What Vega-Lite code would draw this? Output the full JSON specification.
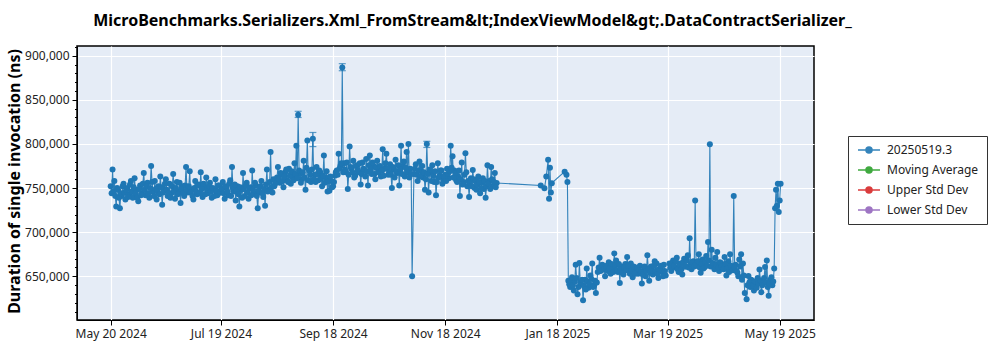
{
  "$schema": "https://vega.github.io/schema/vega-lite/v6.json",
  "width": 737,
  "height": 274,
  "autosize": {"type": "none"},
  "padding": {"left": 77, "top": 46, "right": 186, "bottom": 30},
  "background": "white",
  "title": {
    "text": "MicroBenchmarks.Serializers.Xml_FromStream&lt;IndexViewModel&gt;.DataContractSerializer_",
    "anchor": "middle",
    "frame": "group",
    "dx": 27,
    "offset": 4,
    "baseline": "alphabetic",
    "font": "Noto Sans",
    "fontSize": 16,
    "fontWeight": "bold",
    "color": "black"
  },
  "data": {
    "values": [
      {"d":"2024-05-20","v":752000},{"d":"2024-05-20T12:00:00Z","v":744000},{"d":"2024-05-21","v":771000},{"d":"2024-05-22","v":758000},{"d":"2024-05-23","v":729000},{"d":"2024-05-24","v":748000},{"d":"2024-05-25","v":727000},{"d":"2024-05-26","v":741000},{"d":"2024-05-27","v":755000},{"d":"2024-05-28","v":737000},{"d":"2024-05-29","v":750000},{"d":"2024-05-30","v":743000},{"d":"2024-05-31","v":758000},
      {"d":"2024-06-01","v":739000},{"d":"2024-06-02","v":761000},{"d":"2024-06-03","v":748000},{"d":"2024-06-04","v":735000},{"d":"2024-06-05","v":753000},{"d":"2024-06-06","v":744000},{"d":"2024-06-07","v":767000},{"d":"2024-06-08","v":742000},{"d":"2024-06-09","v":756000},{"d":"2024-06-10","v":739000},{"d":"2024-06-11","v":775000},{"d":"2024-06-12","v":746000},{"d":"2024-06-13","v":758000},{"d":"2024-06-14","v":737000},{"d":"2024-06-15","v":752000},{"d":"2024-06-16","v":763000},{"d":"2024-06-17","v":731000},{"d":"2024-06-18","v":749000},{"d":"2024-06-19","v":760000},{"d":"2024-06-20","v":741000},{"d":"2024-06-21","v":755000},{"d":"2024-06-22","v":744000},{"d":"2024-06-23","v":766000},{"d":"2024-06-24","v":738000},{"d":"2024-06-25","v":757000},{"d":"2024-06-26","v":746000},{"d":"2024-06-27","v":733000},{"d":"2024-06-28","v":752000},{"d":"2024-06-29","v":741000},{"d":"2024-06-30","v":774000},
      {"d":"2024-07-01","v":745000},{"d":"2024-07-02","v":769000},{"d":"2024-07-03","v":748000},{"d":"2024-07-04","v":737000},{"d":"2024-07-05","v":758000},{"d":"2024-07-06","v":743000},{"d":"2024-07-07","v":754000},{"d":"2024-07-08","v":768000},{"d":"2024-07-09","v":740000},{"d":"2024-07-10","v":751000},{"d":"2024-07-11","v":762000},{"d":"2024-07-12","v":744000},{"d":"2024-07-13","v":756000},{"d":"2024-07-14","v":739000},{"d":"2024-07-15","v":748000},{"d":"2024-07-16","v":760000},{"d":"2024-07-17","v":742000},{"d":"2024-07-18","v":753000},
      {"d":"2024-07-19","v":745000},{"d":"2024-07-20","v":757000},{"d":"2024-07-21","v":738000},{"d":"2024-07-22","v":750000},{"d":"2024-07-23","v":742000},{"d":"2024-07-24","v":759000},{"d":"2024-07-25","v":774000},{"d":"2024-07-26","v":746000},{"d":"2024-07-27","v":736000},{"d":"2024-07-28","v":752000},{"d":"2024-07-29","v":729000},{"d":"2024-07-30","v":748000},{"d":"2024-07-31","v":767000},
      {"d":"2024-08-01","v":741000},{"d":"2024-08-02","v":756000},{"d":"2024-08-03","v":738000},{"d":"2024-08-04","v":751000},{"d":"2024-08-05","v":770000},{"d":"2024-08-06","v":744000},{"d":"2024-08-07","v":753000},{"d":"2024-08-08","v":727000},{"d":"2024-08-09","v":745000},{"d":"2024-08-10","v":758000},{"d":"2024-08-11","v":740000},{"d":"2024-08-12","v":730000},{"d":"2024-08-13","v":771000},{"d":"2024-08-14","v":748000},{"d":"2024-08-15","v":791000},{"d":"2024-08-16","v":745000},{"d":"2024-08-17","v":752000},{"d":"2024-08-18","v":758000},
      {"d":"2024-08-19","v":774000},{"d":"2024-08-20","v":756000},{"d":"2024-08-21","v":765000},{"d":"2024-08-22","v":751000},{"d":"2024-08-23","v":768000},{"d":"2024-08-24","v":759000},{"d":"2024-08-25","v":772000},{"d":"2024-08-26","v":755000},{"d":"2024-08-27","v":763000},{"d":"2024-08-28","v":778000},{"d":"2024-08-29","v":798000},{"d":"2024-08-30","v":833000,"lo":830000,"hi":837000},{"d":"2024-08-31","v":766000},
      {"d":"2024-09-01","v":760000},{"d":"2024-09-02","v":781000},{"d":"2024-09-03","v":748000},{"d":"2024-09-04","v":804000},{"d":"2024-09-05","v":770000},{"d":"2024-09-06","v":757000},{"d":"2024-09-07","v":806000,"lo":797000,"hi":813000},{"d":"2024-09-08","v":765000},{"d":"2024-09-09","v":774000},{"d":"2024-09-10","v":759000},{"d":"2024-09-11","v":768000},{"d":"2024-09-12","v":752000},{"d":"2024-09-13","v":787000},{"d":"2024-09-14","v":762000},{"d":"2024-09-15","v":746000},{"d":"2024-09-16","v":747000},{"d":"2024-09-17","v":758000},{"d":"2024-09-18","v":752000},{"d":"2024-09-19","v":764000},
      {"d":"2024-09-20","v":770000},{"d":"2024-09-21","v":789000},{"d":"2024-09-22","v":775000},{"d":"2024-09-23","v":886500,"lo":883000,"hi":891000},{"d":"2024-09-24","v":778000},{"d":"2024-09-25","v":768000},{"d":"2024-09-26","v":749000},{"d":"2024-09-27","v":797000},{"d":"2024-09-28","v":772000},{"d":"2024-09-29","v":781000},{"d":"2024-09-30","v":764000},
      {"d":"2024-10-01","v":776000},{"d":"2024-10-02","v":768000},{"d":"2024-10-03","v":754000},{"d":"2024-10-04","v":779000},{"d":"2024-10-05","v":770000},{"d":"2024-10-06","v":783000},{"d":"2024-10-07","v":753000},{"d":"2024-10-08","v":787000},{"d":"2024-10-09","v":766000},{"d":"2024-10-10","v":775000},{"d":"2024-10-11","v":760000},{"d":"2024-10-12","v":781000},{"d":"2024-10-13","v":769000},{"d":"2024-10-14","v":763000},{"d":"2024-10-15","v":794000},{"d":"2024-10-16","v":772000},{"d":"2024-10-17","v":789000},{"d":"2024-10-18","v":765000},{"d":"2024-10-19","v":777000},{"d":"2024-10-20","v":750000},{"d":"2024-10-21","v":771000},{"d":"2024-10-22","v":782000},{"d":"2024-10-23","v":767000},{"d":"2024-10-24","v":753000},{"d":"2024-10-25","v":798000},{"d":"2024-10-26","v":775000},{"d":"2024-10-27","v":763000},{"d":"2024-10-28","v":791000},{"d":"2024-10-29","v":800000},{"d":"2024-10-30","v":772000},{"d":"2024-10-31","v":650000},
      {"d":"2024-11-01","v":766000},{"d":"2024-11-02","v":777000},{"d":"2024-11-03","v":758000},{"d":"2024-11-04","v":780000},{"d":"2024-11-05","v":769000},{"d":"2024-11-06","v":762000},{"d":"2024-11-07","v":748000},{"d":"2024-11-08","v":800000,"lo":796000,"hi":803000},{"d":"2024-11-09","v":745000},{"d":"2024-11-10","v":768000},{"d":"2024-11-11","v":776000},{"d":"2024-11-12","v":757000},{"d":"2024-11-13","v":742000},{"d":"2024-11-14","v":778000},{"d":"2024-11-15","v":764000},{"d":"2024-11-16","v":770000},{"d":"2024-11-17","v":759000},
      {"d":"2024-11-18","v":765000},{"d":"2024-11-19","v":772000},{"d":"2024-11-20","v":761000},{"d":"2024-11-21","v":798000},{"d":"2024-11-22","v":786000},{"d":"2024-11-23","v":770000},{"d":"2024-11-24","v":759000},{"d":"2024-11-25","v":763000},{"d":"2024-11-26","v":741000},{"d":"2024-11-27","v":779000},{"d":"2024-11-28","v":757000},{"d":"2024-11-29","v":789500},{"d":"2024-11-30","v":752000},
      {"d":"2024-12-01","v":740000},{"d":"2024-12-02","v":761000},{"d":"2024-12-03","v":770500},{"d":"2024-12-04","v":750000},{"d":"2024-12-05","v":748000},{"d":"2024-12-06","v":763000},{"d":"2024-12-07","v":744000},{"d":"2024-12-08","v":756000},{"d":"2024-12-09","v":749000},{"d":"2024-12-10","v":739000},{"d":"2024-12-11","v":776000},{"d":"2024-12-12","v":758000},{"d":"2024-12-13","v":774000},{"d":"2024-12-14","v":752000},{"d":"2024-12-15","v":767000},{"d":"2024-12-16","v":755700},
      {"d":"2025-01-09","v":753000},{"d":"2025-01-11","v":749700},{"d":"2025-01-12","v":763000},{"d":"2025-01-13","v":782000},{"d":"2025-01-13T12:00:00Z","v":738000},{"d":"2025-01-14","v":773000},{"d":"2025-01-14T12:00:00Z","v":745000},{"d":"2025-01-15","v":755600},{"d":"2025-01-22","v":768600},{"d":"2025-01-23","v":765000},{"d":"2025-01-23T12:00:00Z","v":757000},
      {"d":"2025-01-24","v":645000},{"d":"2025-01-25","v":638000},{"d":"2025-01-26","v":649000},{"d":"2025-01-27","v":634000},{"d":"2025-01-28","v":663000},{"d":"2025-01-29","v":629600},{"d":"2025-01-30","v":665000},{"d":"2025-01-31","v":641000},
      {"d":"2025-02-01","v":623000},{"d":"2025-02-02","v":646000},{"d":"2025-02-03","v":659000},{"d":"2025-02-04","v":637000},{"d":"2025-02-05","v":651000},{"d":"2025-02-06","v":664500},{"d":"2025-02-07","v":640000},{"d":"2025-02-08","v":631000},{"d":"2025-02-09","v":655000},{"d":"2025-02-10","v":671000},{"d":"2025-02-11","v":657000},{"d":"2025-02-12","v":660600},{"d":"2025-02-13","v":650000},{"d":"2025-02-14","v":662000},{"d":"2025-02-15","v":666000},{"d":"2025-02-16","v":653000},{"d":"2025-02-17","v":659000},{"d":"2025-02-18","v":676000},{"d":"2025-02-19","v":668000},{"d":"2025-02-20","v":655000},{"d":"2025-02-21","v":642500},{"d":"2025-02-22","v":661000},{"d":"2025-02-23","v":652000},{"d":"2025-02-24","v":664000},{"d":"2025-02-25","v":672000},{"d":"2025-02-26","v":658000},{"d":"2025-02-27","v":664500},{"d":"2025-02-28","v":649000},
      {"d":"2025-03-01","v":660000},{"d":"2025-03-02","v":655000},{"d":"2025-03-03","v":653000},{"d":"2025-03-04","v":662000},{"d":"2025-03-05","v":642000},{"d":"2025-03-06","v":657000},{"d":"2025-03-07","v":650000},{"d":"2025-03-08","v":674000},{"d":"2025-03-09","v":645000},{"d":"2025-03-10","v":661000},{"d":"2025-03-11","v":652000},{"d":"2025-03-12","v":667000},{"d":"2025-03-13","v":664500},{"d":"2025-03-14","v":648000},{"d":"2025-03-15","v":659000},{"d":"2025-03-16","v":655000},{"d":"2025-03-17","v":663000},{"d":"2025-03-18","v":651000},
      {"d":"2025-03-20","v":664500},{"d":"2025-03-21","v":656000},{"d":"2025-03-22","v":668000},{"d":"2025-03-23","v":660000},{"d":"2025-03-24","v":671000},{"d":"2025-03-25","v":655000},{"d":"2025-03-26","v":664600},{"d":"2025-03-27","v":652000},{"d":"2025-03-28","v":670000},{"d":"2025-03-29","v":661000},{"d":"2025-03-30","v":674000},{"d":"2025-03-31","v":693000},
      {"d":"2025-04-01","v":658000},{"d":"2025-04-02","v":667000},{"d":"2025-04-03","v":736000},{"d":"2025-04-04","v":662000},{"d":"2025-04-05","v":675000},{"d":"2025-04-06","v":654000},{"d":"2025-04-07","v":669000},{"d":"2025-04-08","v":660000},{"d":"2025-04-09","v":673000},{"d":"2025-04-10","v":689000},{"d":"2025-04-11","v":799700},{"d":"2025-04-12","v":680000},{"d":"2025-04-13","v":663000},{"d":"2025-04-14","v":671000},{"d":"2025-04-15","v":677600},{"d":"2025-04-16","v":656000},{"d":"2025-04-17","v":665000},{"d":"2025-04-18","v":659000},{"d":"2025-04-19","v":672000},{"d":"2025-04-20","v":651000},{"d":"2025-04-21","v":667000},{"d":"2025-04-22","v":675000},{"d":"2025-04-23","v":658000},{"d":"2025-04-24","v":741000},{"d":"2025-04-25","v":663000},{"d":"2025-04-26","v":654000},{"d":"2025-04-27","v":669000},{"d":"2025-04-28","v":675000},{"d":"2025-04-29","v":664500},{"d":"2025-04-30","v":631000},
      {"d":"2025-05-01","v":624000},{"d":"2025-05-02","v":650400},{"d":"2025-05-03","v":638000},{"d":"2025-05-04","v":645000},{"d":"2025-05-05","v":634000},{"d":"2025-05-06","v":641000},{"d":"2025-05-07","v":648000},{"d":"2025-05-08","v":657700},{"d":"2025-05-09","v":632000},{"d":"2025-05-10","v":644000},{"d":"2025-05-11","v":660600},{"d":"2025-05-12","v":668000},{"d":"2025-05-13","v":628000},{"d":"2025-05-14","v":646000},{"d":"2025-05-15","v":640000},{"d":"2025-05-16","v":659000},{"d":"2025-05-16T12:00:00Z","v":727000},{"d":"2025-05-17","v":748000},{"d":"2025-05-17T12:00:00Z","v":730000},{"d":"2025-05-18","v":755000},{"d":"2025-05-18T12:00:00Z","v":723000},{"d":"2025-05-19","v":736000},{"d":"2025-05-19T12:00:00Z","v":755000},
      {"d":"2024-05-21T12:00:00Z","v":746000},{"d":"2024-05-22T12:00:00Z","v":741000},{"d":"2024-05-23T12:00:00Z","v":750000},{"d":"2024-05-24T12:00:00Z","v":739000},{"d":"2024-05-25T12:00:00Z","v":744000},{"d":"2024-05-26T12:00:00Z","v":752000},{"d":"2024-05-27T12:00:00Z","v":745000},{"d":"2024-05-28T12:00:00Z","v":748000},{"d":"2024-05-29T12:00:00Z","v":740000},{"d":"2024-05-30T12:00:00Z","v":754000},{"d":"2024-05-31T12:00:00Z","v":746000},
      {"d":"2024-06-01T12:00:00Z","v":751000},{"d":"2024-06-02T12:00:00Z","v":744000},{"d":"2024-06-03T12:00:00Z","v":739000},{"d":"2024-06-04T12:00:00Z","v":749000},{"d":"2024-06-05T12:00:00Z","v":742000},{"d":"2024-06-06T12:00:00Z","v":755000},{"d":"2024-06-07T12:00:00Z","v":748000},{"d":"2024-06-08T12:00:00Z","v":752000},{"d":"2024-06-09T12:00:00Z","v":744000},{"d":"2024-06-10T12:00:00Z","v":750000},{"d":"2024-06-11T12:00:00Z","v":757000},{"d":"2024-06-12T12:00:00Z","v":741000},{"d":"2024-06-13T12:00:00Z","v":749000},{"d":"2024-06-14T12:00:00Z","v":746000},{"d":"2024-06-15T12:00:00Z","v":743000},{"d":"2024-06-16T12:00:00Z","v":751000},{"d":"2024-06-17T12:00:00Z","v":745000},{"d":"2024-06-18T12:00:00Z","v":755000},{"d":"2024-06-19T12:00:00Z","v":748000},{"d":"2024-06-20T12:00:00Z","v":744000},{"d":"2024-06-21T12:00:00Z","v":739000},{"d":"2024-06-22T12:00:00Z","v":752000},{"d":"2024-06-23T12:00:00Z","v":747000},{"d":"2024-06-24T12:00:00Z","v":750000},{"d":"2024-06-25T12:00:00Z","v":743000},{"d":"2024-06-26T12:00:00Z","v":756000},{"d":"2024-06-27T12:00:00Z","v":749000},{"d":"2024-06-28T12:00:00Z","v":744000},{"d":"2024-06-29T12:00:00Z","v":753000},{"d":"2024-06-30T12:00:00Z","v":748000},
      {"d":"2024-07-01T12:00:00Z","v":752000},{"d":"2024-07-02T12:00:00Z","v":745000},{"d":"2024-07-03T12:00:00Z","v":741000},{"d":"2024-07-04T12:00:00Z","v":750000},{"d":"2024-07-05T12:00:00Z","v":746000},{"d":"2024-07-06T12:00:00Z","v":753000},{"d":"2024-07-07T12:00:00Z","v":744000},{"d":"2024-07-08T12:00:00Z","v":749000},{"d":"2024-07-09T12:00:00Z","v":755000},{"d":"2024-07-10T12:00:00Z","v":743000},{"d":"2024-07-11T12:00:00Z","v":748000},{"d":"2024-07-12T12:00:00Z","v":752000},{"d":"2024-07-13T12:00:00Z","v":746000},{"d":"2024-07-14T12:00:00Z","v":750000},{"d":"2024-07-15T12:00:00Z","v":741000},{"d":"2024-07-16T12:00:00Z","v":747000},{"d":"2024-07-17T12:00:00Z","v":753000},{"d":"2024-07-18T12:00:00Z","v":745000},
      {"d":"2024-07-19T12:00:00Z","v":749000},{"d":"2024-07-20T12:00:00Z","v":744000},{"d":"2024-07-21T12:00:00Z","v":752000},{"d":"2024-07-22T12:00:00Z","v":746000},{"d":"2024-07-23T12:00:00Z","v":755000},{"d":"2024-07-24T12:00:00Z","v":741000},{"d":"2024-07-25T12:00:00Z","v":750000},{"d":"2024-07-26T12:00:00Z","v":754000},{"d":"2024-07-27T12:00:00Z","v":747000},{"d":"2024-07-28T12:00:00Z","v":743000},{"d":"2024-07-29T12:00:00Z","v":751000},{"d":"2024-07-30T12:00:00Z","v":739000},{"d":"2024-07-31T12:00:00Z","v":749000},
      {"d":"2024-08-01T12:00:00Z","v":753000},{"d":"2024-08-02T12:00:00Z","v":745000},{"d":"2024-08-03T12:00:00Z","v":750000},{"d":"2024-08-04T12:00:00Z","v":742000},{"d":"2024-08-05T12:00:00Z","v":748000},{"d":"2024-08-06T12:00:00Z","v":756000},{"d":"2024-08-07T12:00:00Z","v":741000},{"d":"2024-08-08T12:00:00Z","v":747000},{"d":"2024-08-09T12:00:00Z","v":752000},{"d":"2024-08-10T12:00:00Z","v":744000},{"d":"2024-08-11T12:00:00Z","v":749000},{"d":"2024-08-12T12:00:00Z","v":754000},{"d":"2024-08-13T12:00:00Z","v":746000},{"d":"2024-08-14T12:00:00Z","v":757000},{"d":"2024-08-15T12:00:00Z","v":751000},{"d":"2024-08-16T12:00:00Z","v":760000},{"d":"2024-08-17T12:00:00Z","v":755000},{"d":"2024-08-18T12:00:00Z","v":762000},
      {"d":"2024-08-19T12:00:00Z","v":760000},{"d":"2024-08-20T12:00:00Z","v":767000},{"d":"2024-08-21T12:00:00Z","v":758000},{"d":"2024-08-22T12:00:00Z","v":763000},{"d":"2024-08-23T12:00:00Z","v":771000},{"d":"2024-08-24T12:00:00Z","v":757000},{"d":"2024-08-25T12:00:00Z","v":764000},{"d":"2024-08-26T12:00:00Z","v":769000},{"d":"2024-08-27T12:00:00Z","v":759000},{"d":"2024-08-28T12:00:00Z","v":766000},{"d":"2024-08-29T12:00:00Z","v":761000},{"d":"2024-08-30T12:00:00Z","v":770000},{"d":"2024-08-31T12:00:00Z","v":756000},
      {"d":"2024-09-01T12:00:00Z","v":768000},{"d":"2024-09-02T12:00:00Z","v":762000},{"d":"2024-09-03T12:00:00Z","v":773000},{"d":"2024-09-04T12:00:00Z","v":759000},{"d":"2024-09-05T12:00:00Z","v":765000},{"d":"2024-09-06T12:00:00Z","v":771000},{"d":"2024-09-07T12:00:00Z","v":760000},{"d":"2024-09-08T12:00:00Z","v":757000},{"d":"2024-09-09T12:00:00Z","v":766000},{"d":"2024-09-10T12:00:00Z","v":770000},{"d":"2024-09-11T12:00:00Z","v":761000},{"d":"2024-09-12T12:00:00Z","v":764000},{"d":"2024-09-13T12:00:00Z","v":756000},{"d":"2024-09-14T12:00:00Z","v":769000},{"d":"2024-09-15T12:00:00Z","v":758000},{"d":"2024-09-16T12:00:00Z","v":763000},{"d":"2024-09-17T12:00:00Z","v":751000},{"d":"2024-09-18T12:00:00Z","v":757000},{"d":"2024-09-19T12:00:00Z","v":768000},
      {"d":"2024-09-20T12:00:00Z","v":765000},{"d":"2024-09-21T12:00:00Z","v":772000},{"d":"2024-09-22T12:00:00Z","v":778000},{"d":"2024-09-23T12:00:00Z","v":768000},{"d":"2024-09-24T12:00:00Z","v":771000},{"d":"2024-09-25T12:00:00Z","v":779000},{"d":"2024-09-26T12:00:00Z","v":765000},{"d":"2024-09-27T12:00:00Z","v":774000},{"d":"2024-09-28T12:00:00Z","v":768000},{"d":"2024-09-29T12:00:00Z","v":762000},{"d":"2024-09-30T12:00:00Z","v":775000},
      {"d":"2024-10-01T12:00:00Z","v":770000},{"d":"2024-10-02T12:00:00Z","v":778000},{"d":"2024-10-03T12:00:00Z","v":766000},{"d":"2024-10-04T12:00:00Z","v":772000},{"d":"2024-10-05T12:00:00Z","v":763000},{"d":"2024-10-06T12:00:00Z","v":769000},{"d":"2024-10-07T12:00:00Z","v":776000},{"d":"2024-10-08T12:00:00Z","v":771000},{"d":"2024-10-09T12:00:00Z","v":779000},{"d":"2024-10-10T12:00:00Z","v":766000},{"d":"2024-10-11T12:00:00Z","v":773000},{"d":"2024-10-12T12:00:00Z","v":768000},{"d":"2024-10-13T12:00:00Z","v":775000},{"d":"2024-10-14T12:00:00Z","v":770000},{"d":"2024-10-15T12:00:00Z","v":764000},{"d":"2024-10-16T12:00:00Z","v":778000},{"d":"2024-10-17T12:00:00Z","v":772000},{"d":"2024-10-18T12:00:00Z","v":768000},{"d":"2024-10-19T12:00:00Z","v":765000},{"d":"2024-10-20T12:00:00Z","v":774000},{"d":"2024-10-21T12:00:00Z","v":762000},{"d":"2024-10-22T12:00:00Z","v":769000},{"d":"2024-10-23T12:00:00Z","v":776000},{"d":"2024-10-24T12:00:00Z","v":771000},{"d":"2024-10-25T12:00:00Z","v":766000},{"d":"2024-10-26T12:00:00Z","v":780000},{"d":"2024-10-27T12:00:00Z","v":773000},{"d":"2024-10-28T12:00:00Z","v":768000},{"d":"2024-10-29T12:00:00Z","v":762000},{"d":"2024-10-30T12:00:00Z","v":766000},
      {"d":"2024-11-01T12:00:00Z","v":772000},{"d":"2024-11-02T12:00:00Z","v":765000},{"d":"2024-11-03T12:00:00Z","v":770000},{"d":"2024-11-04T12:00:00Z","v":763000},{"d":"2024-11-05T12:00:00Z","v":775000},{"d":"2024-11-06T12:00:00Z","v":768000},{"d":"2024-11-07T12:00:00Z","v":760000},{"d":"2024-11-08T12:00:00Z","v":766000},{"d":"2024-11-09T12:00:00Z","v":771000},{"d":"2024-11-10T12:00:00Z","v":758000},{"d":"2024-11-11T12:00:00Z","v":764000},{"d":"2024-11-12T12:00:00Z","v":769000},{"d":"2024-11-13T12:00:00Z","v":757000},{"d":"2024-11-14T12:00:00Z","v":762000},{"d":"2024-11-15T12:00:00Z","v":770000},{"d":"2024-11-16T12:00:00Z","v":755000},{"d":"2024-11-17T12:00:00Z","v":763000},
      {"d":"2024-11-18T12:00:00Z","v":758000},{"d":"2024-11-19T12:00:00Z","v":766000},{"d":"2024-11-20T12:00:00Z","v":769000},{"d":"2024-11-21T12:00:00Z","v":773000},{"d":"2024-11-22T12:00:00Z","v":762000},{"d":"2024-11-23T12:00:00Z","v":767000},{"d":"2024-11-24T12:00:00Z","v":757000},{"d":"2024-11-25T12:00:00Z","v":770000},{"d":"2024-11-26T12:00:00Z","v":760000},{"d":"2024-11-27T12:00:00Z","v":754000},{"d":"2024-11-28T12:00:00Z","v":765000},{"d":"2024-11-29T12:00:00Z","v":768000},{"d":"2024-11-30T12:00:00Z","v":758000},
      {"d":"2024-12-01T12:00:00Z","v":756000},{"d":"2024-12-02T12:00:00Z","v":752000},{"d":"2024-12-03T12:00:00Z","v":760000},{"d":"2024-12-04T12:00:00Z","v":758000},{"d":"2024-12-05T12:00:00Z","v":754000},{"d":"2024-12-06T12:00:00Z","v":757000},{"d":"2024-12-07T12:00:00Z","v":750000},{"d":"2024-12-08T12:00:00Z","v":761000},{"d":"2024-12-09T12:00:00Z","v":758000},{"d":"2024-12-10T12:00:00Z","v":752000},{"d":"2024-12-11T12:00:00Z","v":755000},{"d":"2024-12-12T12:00:00Z","v":749000},{"d":"2024-12-13T12:00:00Z","v":760000},{"d":"2024-12-14T12:00:00Z","v":757000},{"d":"2024-12-15T12:00:00Z","v":751000},
      {"d":"2025-01-24T12:00:00Z","v":641000},{"d":"2025-01-25T12:00:00Z","v":645000},{"d":"2025-01-26T12:00:00Z","v":640000},{"d":"2025-01-27T12:00:00Z","v":644000},{"d":"2025-01-28T12:00:00Z","v":648000},{"d":"2025-01-29T12:00:00Z","v":638000},{"d":"2025-01-30T12:00:00Z","v":643000},{"d":"2025-01-31T12:00:00Z","v":646000},
      {"d":"2025-02-01T12:00:00Z","v":639000},{"d":"2025-02-02T12:00:00Z","v":635000},{"d":"2025-02-03T12:00:00Z","v":644000},{"d":"2025-02-04T12:00:00Z","v":641000},{"d":"2025-02-05T12:00:00Z","v":647000},{"d":"2025-02-06T12:00:00Z","v":638000},{"d":"2025-02-07T12:00:00Z","v":645000},{"d":"2025-02-08T12:00:00Z","v":643000},{"d":"2025-02-09T12:00:00Z","v":660000},{"d":"2025-02-10T12:00:00Z","v":656000},{"d":"2025-02-11T12:00:00Z","v":663000},{"d":"2025-02-12T12:00:00Z","v":658000},{"d":"2025-02-13T12:00:00Z","v":661000},{"d":"2025-02-14T12:00:00Z","v":656000},{"d":"2025-02-15T12:00:00Z","v":659000},{"d":"2025-02-16T12:00:00Z","v":664000},{"d":"2025-02-17T12:00:00Z","v":655000},{"d":"2025-02-18T12:00:00Z","v":662000},{"d":"2025-02-19T12:00:00Z","v":657000},{"d":"2025-02-20T12:00:00Z","v":664000},{"d":"2025-02-21T12:00:00Z","v":658000},{"d":"2025-02-22T12:00:00Z","v":654000},{"d":"2025-02-23T12:00:00Z","v":660000},{"d":"2025-02-24T12:00:00Z","v":657000},{"d":"2025-02-25T12:00:00Z","v":662000},{"d":"2025-02-26T12:00:00Z","v":653000},{"d":"2025-02-27T12:00:00Z","v":657000},{"d":"2025-02-28T12:00:00Z","v":661000},
      {"d":"2025-03-01T12:00:00Z","v":653000},{"d":"2025-03-02T12:00:00Z","v":660000},{"d":"2025-03-03T12:00:00Z","v":657000},{"d":"2025-03-04T12:00:00Z","v":655000},{"d":"2025-03-05T12:00:00Z","v":652000},{"d":"2025-03-06T12:00:00Z","v":661000},{"d":"2025-03-07T12:00:00Z","v":656000},{"d":"2025-03-08T12:00:00Z","v":659000},{"d":"2025-03-09T12:00:00Z","v":654000},{"d":"2025-03-10T12:00:00Z","v":657000},{"d":"2025-03-11T12:00:00Z","v":662000},{"d":"2025-03-12T12:00:00Z","v":656000},{"d":"2025-03-13T12:00:00Z","v":653000},{"d":"2025-03-14T12:00:00Z","v":658000},{"d":"2025-03-15T12:00:00Z","v":662000},{"d":"2025-03-16T12:00:00Z","v":650000},{"d":"2025-03-17T12:00:00Z","v":656000},
      {"d":"2025-03-20T12:00:00Z","v":660000},{"d":"2025-03-21T12:00:00Z","v":665000},{"d":"2025-03-22T12:00:00Z","v":662000},{"d":"2025-03-23T12:00:00Z","v":667000},{"d":"2025-03-24T12:00:00Z","v":658000},{"d":"2025-03-25T12:00:00Z","v":663000},{"d":"2025-03-26T12:00:00Z","v":658000},{"d":"2025-03-27T12:00:00Z","v":666000},{"d":"2025-03-28T12:00:00Z","v":661000},{"d":"2025-03-29T12:00:00Z","v":668000},{"d":"2025-03-30T12:00:00Z","v":660000},{"d":"2025-03-31T12:00:00Z","v":664000},
      {"d":"2025-04-01T12:00:00Z","v":666000},{"d":"2025-04-02T12:00:00Z","v":661000},{"d":"2025-04-03T12:00:00Z","v":663000},{"d":"2025-04-04T12:00:00Z","v":667000},{"d":"2025-04-05T12:00:00Z","v":660000},{"d":"2025-04-06T12:00:00Z","v":664000},{"d":"2025-04-07T12:00:00Z","v":659000},{"d":"2025-04-08T12:00:00Z","v":666000},{"d":"2025-04-09T12:00:00Z","v":662000},{"d":"2025-04-10T12:00:00Z","v":668000},{"d":"2025-04-11T12:00:00Z","v":661000},{"d":"2025-04-12T12:00:00Z","v":665000},{"d":"2025-04-13T12:00:00Z","v":658000},{"d":"2025-04-14T12:00:00Z","v":663000},{"d":"2025-04-15T12:00:00Z","v":660000},{"d":"2025-04-16T12:00:00Z","v":666000},{"d":"2025-04-17T12:00:00Z","v":661000},{"d":"2025-04-18T12:00:00Z","v":658000},{"d":"2025-04-19T12:00:00Z","v":664000},{"d":"2025-04-20T12:00:00Z","v":659000},{"d":"2025-04-21T12:00:00Z","v":655000},{"d":"2025-04-22T12:00:00Z","v":662000},{"d":"2025-04-23T12:00:00Z","v":657000},{"d":"2025-04-24T12:00:00Z","v":660000},{"d":"2025-04-25T12:00:00Z","v":656000},{"d":"2025-04-26T12:00:00Z","v":650000},{"d":"2025-04-27T12:00:00Z","v":661000},{"d":"2025-04-28T12:00:00Z","v":646000},{"d":"2025-04-29T12:00:00Z","v":651000},
      {"d":"2025-05-01T12:00:00Z","v":640000},{"d":"2025-05-02T12:00:00Z","v":643000},{"d":"2025-05-03T12:00:00Z","v":646000},{"d":"2025-05-04T12:00:00Z","v":639000},{"d":"2025-05-05T12:00:00Z","v":644000},{"d":"2025-05-06T12:00:00Z","v":637000},{"d":"2025-05-07T12:00:00Z","v":642000},{"d":"2025-05-08T12:00:00Z","v":645000},{"d":"2025-05-09T12:00:00Z","v":640000},{"d":"2025-05-10T12:00:00Z","v":648000},{"d":"2025-05-11T12:00:00Z","v":643000},{"d":"2025-05-12T12:00:00Z","v":638000},{"d":"2025-05-13T12:00:00Z","v":641000},{"d":"2025-05-14T12:00:00Z","v":649000},{"d":"2025-05-15T12:00:00Z","v":644000}
    ]
  },
  "encoding": {
    "x": {
      "field": "d",
      "type": "temporal",
      "title": null,
      "scale": {
        "type": "utc",
        "domain": [
          {"year": 2024, "month": 5, "date": 1, "hours": 16, "utc": true},
          {"year": 2025, "month": 6, "date": 6, "hours": 16, "utc": true}
        ]
      },
      "axis": {
        "values": [
          {"year": 2024, "month": 5, "date": 20, "utc": true},
          {"year": 2024, "month": 7, "date": 19, "utc": true},
          {"year": 2024, "month": 9, "date": 18, "utc": true},
          {"year": 2024, "month": 11, "date": 18, "utc": true},
          {"year": 2025, "month": 1, "date": 18, "utc": true},
          {"year": 2025, "month": 3, "date": 19, "utc": true},
          {"year": 2025, "month": 5, "date": 19, "utc": true}
        ],
        "labelExpr": "utcFormat(datum.value, '%b %d %Y')",
        "labelFlush": false,
        "labelOverlap": false
      }
    },
    "y": {
      "field": "v",
      "type": "quantitative",
      "title": "Duration of single invocation (ns)",
      "scale": {"domain": [600500, 911000], "nice": false, "zero": false},
      "axis": {
        "values": [610000,620000,630000,640000,650000,660000,670000,680000,690000,700000,710000,720000,730000,740000,750000,760000,770000,780000,790000,800000,810000,820000,830000,840000,850000,860000,870000,880000,890000,900000,910000],
        "labelExpr": "datum.value % 50000 === 0 ? format(datum.value, ',') : ''",
        "tickSize": {"condition": {"test": "datum.value % 50000 === 0", "value": 5}, "value": 2.5},
        "gridOpacity": {"condition": {"test": "datum.value % 50000 === 0", "value": 1}, "value": 0},
        "titleX": -63,
        "titleY": 135,
        "titleAlign": "center",
        "titleBaseline": "middle",
        "titleAngle": -90,
        "titleFontSize": 16,
        "titleFontWeight": "bold",
        "titleFont": "Noto Sans",
        "titleColor": "black"
      }
    }
  },
  "layer": [
    {
      "mark": {"type": "line", "strokeWidth": 1.1, "opacity": 0.9, "clip": true},
      "encoding": {
        "color": {
          "datum": "20250519.3",
          "type": "nominal",
          "scale": {
            "domain": ["20250519.3", "Moving Average", "Upper Std Dev", "Lower Std Dev"],
            "range": ["#1f77b4", "#2ca02c", "#d62728", "#9467bd"]
          },
          "legend": {
            "title": null,
            "orient": "none",
            "legendX": 771,
            "legendY": 90,
            "symbolType": "M-2.2,0H2.2M-0.6,0A0.6,0.6,0,1,1,0.6,0A0.6,0.6,0,1,1,-0.6,0Z",
            "symbolSize": 100,
            "symbolStrokeWidth": 1.5,
            "symbolOffset": 7,
            "labelOffset": 12,
            "padding": 8,
            "rowPadding": 8,
            "fillColor": "white",
            "strokeColor": "#333333",
            "labelFont": "Noto Sans",
            "labelFontSize": 12,
            "labelColor": "#222222",
            "encode": {
              "symbols": {
                "update": {
                  "fill": {"scale": "color", "field": "value"},
                  "stroke": {"scale": "color", "field": "value"},
                  "opacity": {"value": 1}
                }
              }
            }
          }
        }
      }
    },
    {
      "transform": [{"filter": "isValid(datum.lo)"}],
      "mark": {"type": "errorbar", "ticks": {"size": 7, "color": "#1f77b4"}, "color": "#1f77b4", "thickness": 1.2},
      "encoding": {
        "y": {"field": "lo", "type": "quantitative", "title": "Duration of single invocation (ns)"},
        "y2": {"field": "hi"}
      }
    },
    {
      "mark": {"type": "point", "filled": true, "size": 36, "opacity": 1, "clip": true},
      "encoding": {
        "color": {"datum": "20250519.3", "type": "nominal"}
      }
    }
  ],
  "config": {
    "view": {"stroke": "black", "strokeWidth": 1.5, "fill": "#E5ECF6"},
    "axis": {
      "grid": true,
      "gridColor": "white",
      "gridWidth": 1.2,
      "domainColor": "black",
      "domainWidth": 1,
      "tickColor": "black",
      "tickSize": 5,
      "labelFont": "Noto Sans",
      "labelFontSize": 12,
      "labelColor": "#222222",
      "labelPadding": 3
    }
  }
}
